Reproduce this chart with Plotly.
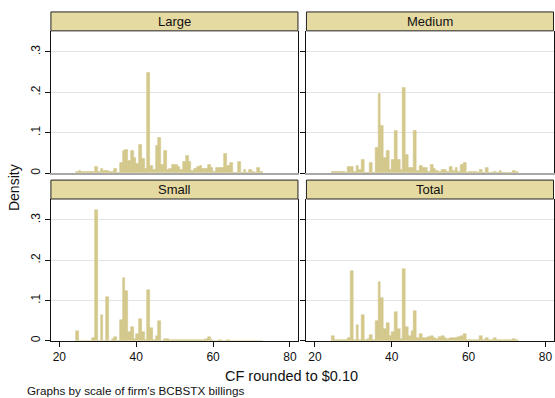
import plotly.graph_objects as go

# ---------------- data ----------------
panel_titles = ["Large", "Medium", "Small", "Total"]
bin_center0 = 24.65   # centre of first histogram bin (CF, $)
bin_width = 0.715     # histogram bin width

large = [.003, .006, .002, .002, .002, .002, .003, .015, .004, .011,
         .006, .005, .003, .004, .011, .001, .026, .054, .058, .030,
         .054, .039, .024, .070, .036, .010, .249, .017, .009, .068,
         .087, .020, .056, .008, .010, .021, .021, .016, .008, .027,
         .044, .027, .005, .011, .015, .019, .011, .011, .020, .014,
         .003, .012, .012, .014, .048, .018, .025, 0, 0, .028,
         0, .007, 0, .007, .002, 0, .012, .002]
medium = [.004, .002, .002, .002, .002, 0, .016, .016, .002, .017,
          .007, .034, 0, 0, .026, 0, .063, .197, .118, .038,
          .054, .009, .034, .105, .034, .009, .211, .045, .013, .014,
          .105, .005, .019, .013, .014, .002, .021, .011, .005, .002,
          .007, .009, .002, .016, .005, .014, .003, .021, .026, 0,
          .003, .003, .003, 0, .007, 0, .012, 0, 0, .003,
          0, .005, 0, 0, 0, 0, .006, .003]
small = [.024, 0, 0, 0, 0, 0, .007, .325, 0, .064,
         0, .109, 0, .005, .010, 0, .051, .156, .123, .021,
         .033, .004, .018, .054, .021, .003, .125, .031, .003, .011,
         .048, 0, .004, .004, .002, .002, .001, .002, .001, .001,
         .001, .002, .002, .001, .002, .003, .002, .005, .010, .001,
         0, 0, .001, 0, 0, .002, 0, 0, 0, 0,
         0, 0, 0, 0, 0, 0, 0, 0]
total = [.013, .002, .002, .002, .002, .002, .008, .174, .001, .040,
         .003, .065, .002, .004, .014, .002, .048, .145, .107, .029,
         .043, .011, .023, .071, .029, .005, .177, .033, .011, .025,
         .073, .008, .017, .008, .007, .009, .011, .007, .005, .009,
         .011, .007, .005, .007, .007, .007, .010, .012, .016, .003,
         .003, .003, .003, .003, .011, .003, .008, .002, .002, .006,
         .002, .002, .001, .001, .001, .001, .004, .001]
series = [large, medium, small, total]

x_ticks = [20, 40, 60, 80]
y_ticks = [0, 0.1, 0.2, 0.3]
y_tick_text = ["0", ".1", ".2", ".3"]

# ---------------- layout helpers ----------------
W, H = 555, 398
def fx(p): return p / W
def fy(p): return 1 - p / H

col_px = [(51, 298.5), (307, 554.5)]
row_plot_px = [(31, 174), (200, 342.5)]    # (top, bottom-baseline)
row_strip_px = [(12, 31), (181, 200)]

BAR_FILL = "#D4C98A"
BAR_LINE = "#CFC488"
STRIP_FILL = "#E6DAA3"
FONT = "Liberation Sans, Arial, sans-serif"

fig = go.Figure()
layout = dict(
    width=W, height=H,
    margin=dict(l=0, r=0, t=0, b=0),
    paper_bgcolor="white", plot_bgcolor="white",
    showlegend=False, bargap=0,
    font=dict(family=FONT, color="#111111"),
)
shapes, annotations = [], []

for k, (title, vals) in enumerate(zip(panel_titles, series)):
    r, c = divmod(k, 2)
    n = k + 1
    xa = "x" if n == 1 else f"x{n}"
    ya = "y" if n == 1 else f"y{n}"
    centers = [bin_center0 + i * bin_width for i in range(len(vals))]
    fig.add_trace(go.Bar(
        x=centers, y=vals, width=bin_width, xaxis=xa, yaxis=ya,
        marker=dict(color=BAR_FILL, line=dict(color=BAR_LINE, width=0.5)),
        hoverinfo="skip"))

    x0, x1 = col_px[c]
    top, base = row_plot_px[r]
    bottom_row = (r == 1)
    layout[f"xaxis{'' if n == 1 else n}"] = dict(
        domain=[fx(x0), fx(x1)], range=[17.8, 82.1], anchor=ya,
        showgrid=False, zeroline=False,
        showline=True, linecolor="#111111" if bottom_row else "#A8A8A8",
        linewidth=1 if bottom_row else 2,
        tickvals=x_ticks if bottom_row else [],
        ticks="outside" if bottom_row else "", ticklen=5, tickcolor="#111111",
        showticklabels=bottom_row, tickfont=dict(size=12, family=FONT),
    )
    layout[f"yaxis{'' if n == 1 else n}"] = dict(
        domain=[fy(base), fy(top)], range=[0, 0.352], anchor=xa,
        showgrid=True, gridcolor="#E4E4E4", gridwidth=1, zeroline=False,
        showline=True, linecolor="#111111", linewidth=1, mirror=True,
        tickvals=y_ticks, ticktext=y_tick_text,
        ticks="outside", ticklen=5, tickcolor="#111111",
        showticklabels=(c == 0), tickangle=-90,
        tickfont=dict(size=12, family=FONT),
    )
    s0, s1 = row_strip_px[r]
    shapes.append(dict(type="rect", xref="paper", yref="paper",
                       x0=fx(x0), x1=fx(x1), y0=fy(s1), y1=fy(s0),
                       fillcolor=STRIP_FILL, line=dict(color="#222222", width=1),
                       layer="above"))
    annotations.append(dict(text=title, xref="paper", yref="paper",
                            x=fx((x0 + x1) / 2), y=fy((s0 + s1) / 2),
                            xanchor="center", yanchor="middle", showarrow=False,
                            font=dict(size=13, family=FONT, color="#111111")))

annotations.append(dict(text="Density", xref="paper", yref="paper",
                        x=fx(14), y=fy(188), textangle=-90, showarrow=False,
                        xanchor="center", yanchor="middle",
                        font=dict(size=14, family=FONT, color="#111111")))
annotations.append(dict(text="CF rounded to $0.10", xref="paper", yref="paper",
                        x=fx(292), y=fy(378), showarrow=False,
                        xanchor="center", yanchor="middle",
                        font=dict(size=14.5, family=FONT, color="#111111")))
annotations.append(dict(text="Graphs by scale of firm's BCBSTX billings",
                        xref="paper", yref="paper", x=fx(25), y=fy(392),
                        showarrow=False, xanchor="left", yanchor="middle",
                        font=dict(size=11.7, family=FONT, color="#111111")))

layout["shapes"] = shapes
layout["annotations"] = annotations
fig.update_layout(**layout)
fig.write_html("out.html",
               config={"displayModeBar": False},
               post_script="document.body.style.margin='0';"
                           "document.body.style.overflow='hidden';")
